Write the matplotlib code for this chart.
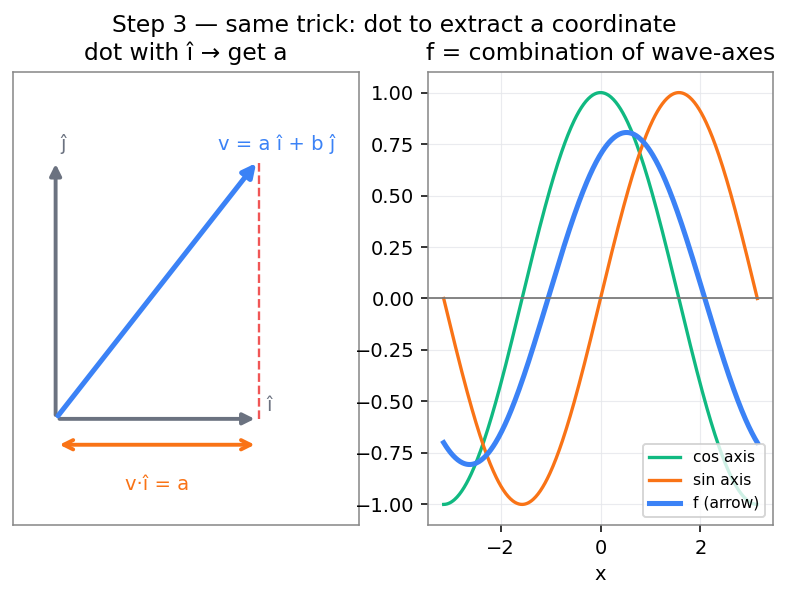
import numpy as np
import matplotlib
matplotlib.use("Agg")
import matplotlib.pyplot as plt

# data
i_hat = [1.0, 0.0]
j_hat = [0.0, 1.0]
v_vec = [1.0, 1.0]
proj_y = -0.1
coef_cos = 0.7
coef_sin = 0.4
x_range = [-np.pi, np.pi]
legend_labels = ["cos axis", "sin axis", "f (arrow)"]

# colours
grey = "#6b7280"
blue = "#3b82f6"
orange = "#f97316"
green = "#10b981"
red = "#ef4444"
spine_c = "#888888"

fig = plt.figure(figsize=(789 / 140, 598 / 140), dpi=140)
ax1 = fig.add_axes([13 / 789, 1 - 525 / 598, 346 / 789, 453 / 598])
ax2 = fig.add_axes([428 / 789, 1 - 525 / 598, 345 / 789, 453 / 598])

fig.suptitle("Step 3 — same trick: dot to extract a coordinate", fontsize=12, y=0.976)

# left panel: dot with i-hat
ax1.set_xlim(-0.21, 1.495)
ax1.set_ylim(-0.41, 1.34)
ax1.set_xticks([])
ax1.set_yticks([])
for s in ax1.spines.values():
    s.set_color(spine_c)
ax1.set_title("dot with î → get a", fontsize=12)

ax1.annotate("", xy=i_hat, xytext=(0, 0),
             arrowprops=dict(arrowstyle="-|>", lw=2, color=grey, mutation_scale=12))
ax1.annotate("", xy=j_hat, xytext=(0, 0),
             arrowprops=dict(arrowstyle="-|>", lw=2, color=grey, mutation_scale=12))
ax1.annotate("", xy=v_vec, xytext=(0, 0),
             arrowprops=dict(arrowstyle="-|>", lw=2.6, color=blue, mutation_scale=14))
ax1.plot([v_vec[0], v_vec[0]], [0, v_vec[1]], "--", color=red, lw=1.2, alpha=0.9)
ax1.annotate("", xy=(i_hat[0], proj_y), xytext=(0, proj_y),
             arrowprops=dict(arrowstyle="<->", lw=2, color=orange, mutation_scale=12))

ax1.text(0.035, 1.06, "ĵ", color=grey, fontsize=10, ha="center", va="center")
ax1.text(1.05, 0.05, "î", color=grey, fontsize=10, ha="center", va="center")
ax1.text(1.09, 1.06, "v = a î + b ĵ", color=blue, fontsize=10, ha="center", va="center")
ax1.text(0.5, -0.255, "v·î = a", color=orange, fontsize=10, ha="center", va="center")

# right panel: wave axes
x = np.linspace(x_range[0], x_range[1], 400)
cos_axis = np.cos(x)
sin_axis = np.sin(x)
f = coef_cos * cos_axis + coef_sin * sin_axis

ax2.plot(x, cos_axis, color=green, lw=1.7, label=legend_labels[0])
ax2.plot(x, sin_axis, color=orange, lw=1.7, label=legend_labels[1])
ax2.plot(x, f, color=blue, lw=2.6, label=legend_labels[2])
ax2.axhline(0, color="#777777", lw=0.9)
ax2.grid(True, color="#e5e7eb", lw=0.6, alpha=0.8)
ax2.set_axisbelow(True)
for s in ax2.spines.values():
    s.set_color(spine_c)
ax2.set_title("f = combination of wave-axes", fontsize=12)
ax2.set_xlabel("x")
ax2.legend(loc="lower right", fontsize=8)

fig.savefig("out.png", dpi=140)
